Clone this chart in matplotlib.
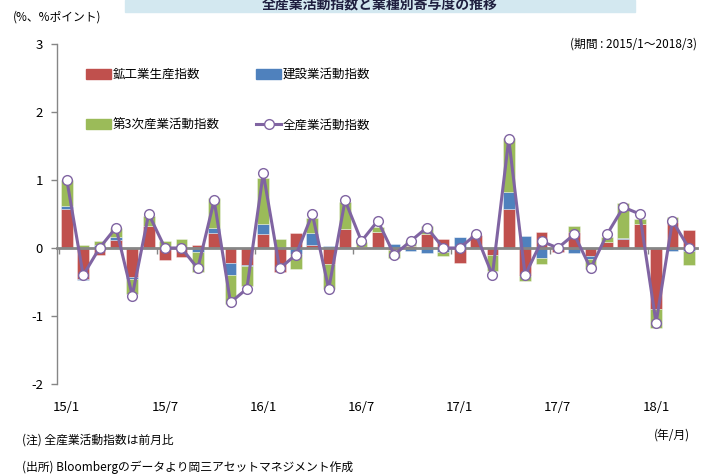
import matplotlib
matplotlib.use('Agg')
import matplotlib.pyplot as plt
import numpy as np
from matplotlib.patches import Patch, Rectangle
from matplotlib.lines import Line2D

plt.rcParams['font.family'] = ['Noto Sans CJK JP', 'DejaVu Sans']

# 2015/1 - 2018/3 (月次, 前月比寄与度)
months = ['15/1', '15/7', '16/1', '16/7', '17/1', '17/7', '18/1']
mining = [0.57, -0.45, -0.10, 0.12, -0.43, 0.32, -0.18, -0.13, 0.04, 0.22,
          -0.22, -0.25, 0.20, -0.35, 0.22, 0.05, -0.24, 0.28, 0.02, 0.23,
          -0.03, 0.03, 0.21, 0.13, -0.22, 0.19, -0.10, 0.57, -0.41, 0.23,
          -0.06, 0.24, -0.12, 0.09, 0.13, 0.36, -0.90, 0.38, 0.27]
construction = [0.05, -0.02, 0.04, 0.04, -0.02, 0.0, 0.01, 0.0, -0.06, 0.07,
                -0.17, -0.02, 0.16, 0.0, -0.09, 0.17, 0.03, 0.0, 0.0, 0.0,
                0.06, -0.04, -0.07, -0.06, 0.16, 0.0, 0.0, 0.25, 0.17, -0.15,
                0.0, -0.07, -0.04, -0.02, 0.02, 0.0, 0.0, -0.04, -0.05]
tertiary = [0.38, 0.05, 0.07, 0.14, -0.23, 0.15, 0.10, 0.13, -0.29, 0.44,
            -0.43, -0.29, 0.67, 0.13, -0.22, 0.22, -0.37, 0.39, 0.07, 0.08,
            -0.11, 0.08, 0.11, -0.06, 0.0, 0.0, -0.24, 0.80, -0.07, -0.08,
            0.02, 0.08, -0.15, 0.07, 0.51, 0.07, -0.28, 0.08, -0.20]
total = [1.0, -0.4, 0.0, 0.3, -0.7, 0.5, 0.0, 0.0, -0.3, 0.7,
         -0.8, -0.6, 1.1, -0.3, -0.1, 0.5, -0.6, 0.7, 0.1, 0.4,
         -0.1, 0.1, 0.3, 0.0, 0.0, 0.2, -0.4, 1.6, -0.4, 0.1,
         0.0, 0.2, -0.3, 0.2, 0.6, 0.5, -1.1, 0.4, 0.0]

c_red, c_blue, c_green, c_line = '#C0504D', '#4F81BD', '#9BBB59', '#8064A2'
grey = '#868686'

fig = plt.figure(figsize=(7.05, 4.75), dpi=100)
ax = fig.add_axes([57 / 705, 1 - 384 / 475, 640 / 705, 340 / 475])

x = np.arange(len(total))
pos = np.zeros(len(x))
neg = np.zeros(len(x))
for vals, col in [(mining, c_red), (construction, c_blue), (tertiary, c_green)]:
    v = np.array(vals)
    bottom = np.where(v >= 0, pos, neg)
    ax.bar(x, v, 0.72, bottom=bottom, color=col, edgecolor=(1, 1, 1, 0.5),
           linewidth=0.5, zorder=1)
    pos = pos + np.clip(v, 0, None)
    neg = neg + np.clip(v, None, 0)

ax.plot(x, total, color=c_line, lw=2.2, marker='o', ms=7,
        mfc='white', mec=c_line, mew=1.0, zorder=4)

ax.set_xlim(-0.6, 38.5)
ax.set_ylim(-2, 3)
ax.set_yticks([3, 2, 1, 0, -1, -2])
ax.set_yticklabels(['3', '2', '1', '0', '-1', '-2'])

for s in ['top', 'right']:
    ax.spines[s].set_visible(False)
ax.spines['left'].set_color(grey)
ax.spines['left'].set_linewidth(1.0)
ax.spines['bottom'].set_position(('data', 0))
ax.spines['bottom'].set_color(grey)
ax.spines['bottom'].set_linewidth(2.0)
ax.spines['bottom'].set_zorder(3)

ax.set_xticks(np.arange(0, 39, 6) - 0.5)
ax.set_xticklabels([])
ax.tick_params(axis='x', length=4, color=grey, width=1)
ax.tick_params(axis='y', length=4, color=grey, width=1, labelsize=9.5, pad=6)

for i, lab in zip(range(0, 39, 6), months):
    ax.text(i, -0.07, lab, transform=ax.get_xaxis_transform(),
            ha='center', va='center', fontsize=9.5)

handles = [Patch(color=c_red), Patch(color=c_green), Patch(color=c_blue),
           Line2D([], [], color=c_line, lw=2.2, marker='o', ms=7,
                  mfc='white', mec=c_line, mew=1.0)]
labels = ['鉱工業生産指数', '第3次産業活動指数', '建設業活動指数', '全産業活動指数']
fig.legend(handles, labels, ncol=2, loc='upper left',
           bbox_to_anchor=(86 / 705, 1 - 68 / 475), frameon=False,
           fontsize=9, handlelength=2.0, handleheight=0.9, handletextpad=0.15,
           labelspacing=3.0, columnspacing=2.9, borderpad=0, borderaxespad=0,
           numpoints=1)

# 見出し帯（上端で切れている）
fig.patches.append(Rectangle((125 / 705, 1 - 12 / 475), 510 / 705, 12 / 475,
                             transform=fig.transFigure, color='#D3E8F0', zorder=0))
fig.text(380 / 705, 1 - 4 / 475, '全産業活動指数と業種別寄与度の推移', ha='center',
         va='center', fontsize=10, fontweight='bold', color='#1F1F3F')

fig.text(13 / 705, 1 - 17 / 475, '(%、%ポイント)', fontsize=8.5, va='center')
fig.text(697 / 705, 1 - 44 / 475, '(期間 : 2015/1～2018/3)', fontsize=8.5,
         va='center', ha='right')
fig.text(690 / 705, 1 - 435 / 475, '(年/月)', fontsize=8.5, va='center', ha='right')
fig.text(22 / 705, 1 - 440 / 475, '(注) 全産業活動指数は前月比', fontsize=8.5, va='center')
fig.text(22 / 705, 1 - 467 / 475, '(出所) Bloombergのデータより岡三アセットマネジメント作成',
         fontsize=8.5, va='center')

fig.savefig('out.png', dpi=100)
